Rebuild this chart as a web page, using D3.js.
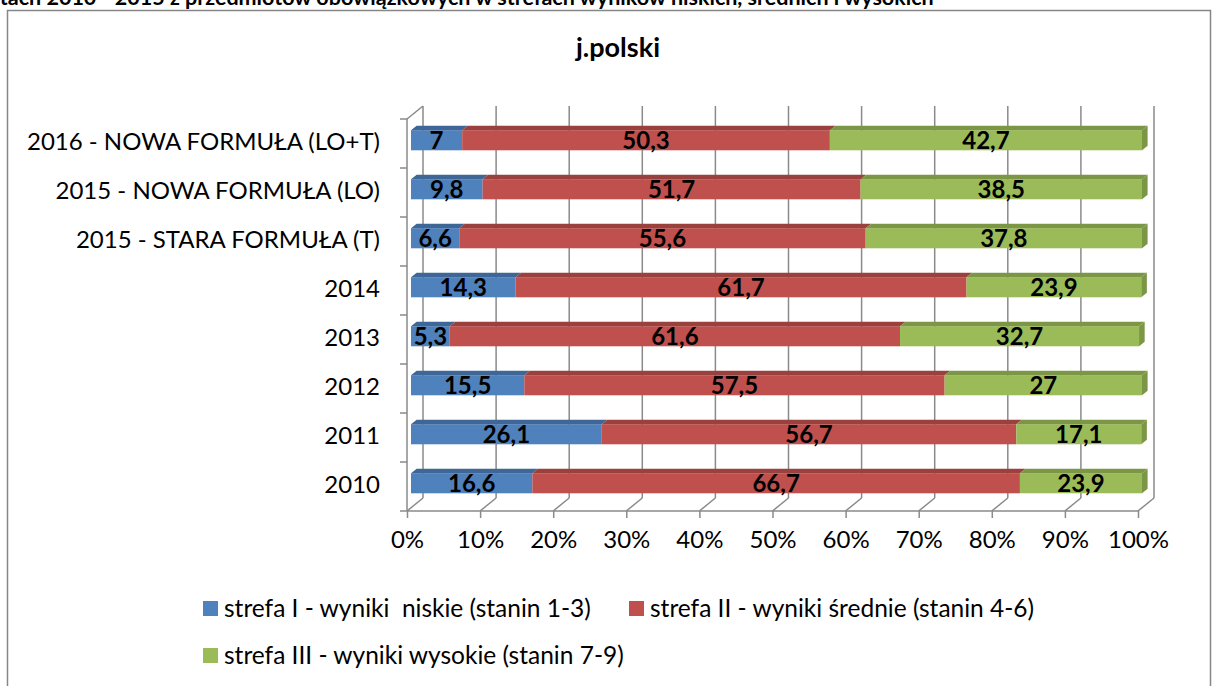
<!DOCTYPE html>
<html>
<head>
<meta charset="utf-8">
<script src="https://cdn.jsdelivr.net/npm/d3@7"></script>
<style>
  html, body { margin: 0; padding: 0; background: #fff; }
  svg { display: block; font-family: Lato, "Open Sans", sans-serif; }
  text { white-space: pre; }
</style>
</head>
<body>
<svg id="chart" width="1221" height="686"></svg>
<script>
const categories = ["2010", "2011", "2012", "2013", "2014",
  "2015 - STARA FORMUŁA (T)", "2015 - NOWA FORMUŁA (LO)", "2016 - NOWA FORMUŁA (LO+T)"];
const strefaI = [16.6, 26.1, 15.5, 5.3, 14.3, 6.6, 9.8, 7];
const strefaII = [66.7, 56.7, 57.5, 61.6, 61.7, 55.6, 51.7, 50.3];
const strefaIII = [23.9, 17.1, 27, 32.7, 23.9, 37.8, 38.5, 42.7];
const seriesNames = ["strefa I - wyniki  niskie (stanin 1-3)",
  "strefa II - wyniki średnie (stanin 4-6)",
  "strefa III - wyniki wysokie (stanin 7-9)"];
const xTicks = [0, 10, 20, 30, 40, 50, 60, 70, 80, 90, 100];

const colors = ["#4F81BD", "#C0504D", "#9BBB59"];
const topColors = ["#3E6797", "#9A403D", "#7B9645"];
const gridColor = "#8a8a8a";

const svg = d3.select("#chart");

// clipped header text from the page above
const headSize = "21.5px";
const head = svg.append("text")
  .attr("y", 5)
  .style("font-weight", "bold")
  .style("font-size", headSize)
  .text("latach 2010 - 2015 z przedmiotów obowiązkowych w strefach wyników niskich, średnich i wysokich");
const tmp = svg.append("text").style("font-weight", "bold").style("font-size", headSize).text("la");
head.attr("x", -tmp.node().getComputedTextLength());
tmp.remove();

// chart frame
svg.append("rect")
  .attr("x", 7.5).attr("y", 10.5)
  .attr("width", 1203).attr("height", 700)
  .attr("fill", "none").attr("stroke", "#868686").attr("stroke-width", 1.5);

svg.append("text")
  .attr("x", 618).attr("y", 57)
  .attr("text-anchor", "middle")
  .style("font-weight", "bold").style("font-size", "27px")
  .text("j.polski");

const x = d3.scaleLinear().domain([0, 100]).range([407, 1138]).clamp(true);
const y = d3.scaleBand().domain(categories).range([511, 119]);
const DX = 16, DY = -13;  // depth of the plot box

const grid = svg.append("g").attr("fill", "none").attr("stroke", gridColor).attr("stroke-width", 1.5);

// back wall gridlines + floor diagonals
xTicks.forEach(t => {
  const x0 = x(t);
  grid.append("line").attr("x1", x0 + DX).attr("x2", x0 + DX).attr("y1", 119 + DY).attr("y2", 511 + DY);
  grid.append("line").attr("x1", x0).attr("y1", 511).attr("x2", x0 + DX).attr("y2", 511 + DY);
});
// left wall top edge
grid.append("line").attr("x1", x(0)).attr("y1", 119).attr("x2", x(0) + DX).attr("y2", 119 + DY);

// axes
const xAxis = svg.append("g")
  .attr("transform", "translate(0,511)")
  .call(d3.axisBottom(x).tickValues(xTicks).tickSize(7).tickPadding(13).tickFormat(d => d + "%"));
xAxis.selectAll("line, path").attr("stroke", gridColor).attr("stroke-width", 1.5);
xAxis.select(".domain").attr("d", `M${x(0)},0H${x(100)}`);
xAxis.selectAll("text").style("font-size", "24px").style("font-family", "Lato").attr("fill", "#000");

const yAxis = svg.append("g")
  .attr("transform", `translate(${x(0)},0)`)
  .call(d3.axisLeft(y).tickSize(0).tickPadding(27));
yAxis.selectAll("line, path").attr("stroke", gridColor).attr("stroke-width", 1.5);
yAxis.select(".domain").attr("d", "M0,119V511");
yAxis.selectAll("text").style("font-size", "24px").style("font-family", "Lato").attr("fill", "#000").attr("dy", "0.25em");
// tick marks on band boundaries
categories.forEach(c => {
  yAxis.append("line").attr("x1", -7).attr("x2", 0)
    .attr("y1", y(c)).attr("y2", y(c)).attr("stroke", gridColor).attr("stroke-width", 1.5);
});
yAxis.append("line").attr("x1", -7).attr("x2", 0).attr("y1", 511).attr("y2", 511)
  .attr("stroke", gridColor).attr("stroke-width", 1.5);

// bars
const dF = 0.25, dB = 0.6;
const barH = y.bandwidth() * 0.41;
const bars = svg.append("g");
const series = [strefaI, strefaII, strefaIII];

categories.forEach((c, i) => {
  const yc = y(c) + y.bandwidth() / 2 + DY * dF;
  const y0 = yc - barH / 2, y1 = yc + barH / 2;
  const ox = DX * dF, bx = DX * (dB - dF), by = DY * (dB - dF);
  let acc = 0;
  const segs = series.map((s, k) => {
    const a = x(acc) + ox, b = x(acc + s[i]) + ox;
    acc += s[i];
    return { k, a, b, v: s[i] };
  });
  segs.forEach(s => {
    bars.append("rect").attr("x", s.a).attr("y", y0).attr("width", s.b - s.a).attr("height", barH)
      .attr("fill", colors[s.k]);
    bars.append("path")
      .attr("d", `M${s.a},${y0}L${s.a + bx},${y0 + by}L${s.b + bx},${y0 + by}L${s.b},${y0}Z`)
      .attr("fill", topColors[s.k]);
  });
  const last = segs[segs.length - 1];
  bars.append("path")
    .attr("d", `M${last.b},${y0}L${last.b + bx},${y0 + by}L${last.b + bx},${y1 + by}L${last.b},${y1}Z`)
    .attr("fill", topColors[last.k]);
  segs.forEach(s => {
    bars.append("text")
      .attr("x", (s.a + s.b) / 2).attr("y", yc).attr("dy", "0.36em")
      .attr("text-anchor", "middle")
      .style("font-weight", "bold").style("font-size", "24px")
      .text(String(s.v).replace(".", ","));
  });
});

// legend
const legend = svg.append("g").style("font-size", "24.5px");
const legPos = [[203, 608], [629, 608], [203, 655]];
seriesNames.forEach((n, k) => {
  const [lx, ly] = legPos[k];
  legend.append("rect").attr("x", lx).attr("y", ly - 7).attr("width", 15).attr("height", 15).attr("fill", colors[k]);
  legend.append("text").attr("x", lx + 21).attr("y", ly).attr("dy", "0.35em").text(n);
});
</script>
</body>
</html>
